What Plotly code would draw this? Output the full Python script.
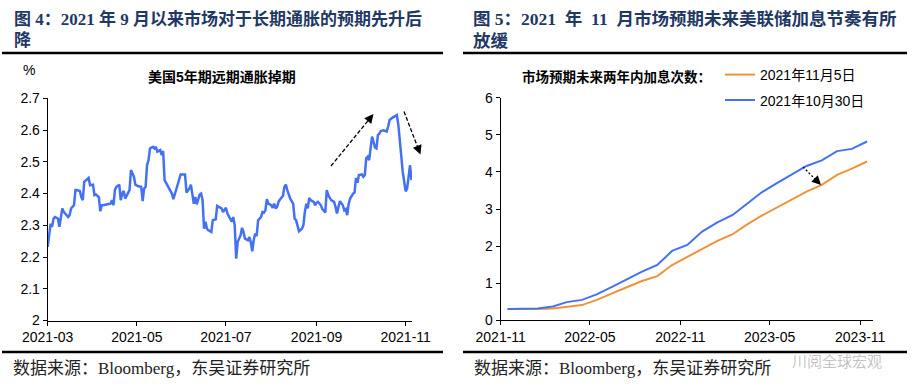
import plotly.graph_objects as go

# ---------------- data: left panel (US 5y5y inflation swap, %) ----------------
left_dates = [
    "2021-03-01", "2021-03-03", "2021-03-04", "2021-03-05", "2021-03-06", "2021-03-08", "2021-03-09", "2021-03-10",
    "2021-03-11", "2021-03-12", "2021-03-13", "2021-03-15", "2021-03-16", "2021-03-17", "2021-03-19", "2021-03-20",
    "2021-03-21", "2021-03-23", "2021-03-24", "2021-03-25", "2021-03-26", "2021-03-28", "2021-03-29", "2021-03-30",
    "2021-04-01", "2021-04-02", "2021-04-03", "2021-04-05", "2021-04-06", "2021-04-07", "2021-04-08", "2021-04-11",
    "2021-04-13", "2021-04-14", "2021-04-15", "2021-04-16", "2021-04-17", "2021-04-19", "2021-04-20", "2021-04-21",
    "2021-04-22", "2021-04-23", "2021-04-25", "2021-04-26", "2021-04-27", "2021-04-29", "2021-04-30",
    "2021-05-01", "2021-05-02", "2021-05-04", "2021-05-05", "2021-05-06", "2021-05-07", "2021-05-08", "2021-05-09",
    "2021-05-10", "2021-05-12", "2021-05-13", "2021-05-14", "2021-05-15", "2021-05-17", "2021-05-18", "2021-05-19",
    "2021-05-20", "2021-05-22", "2021-05-24", "2021-05-25", "2021-05-26", "2021-05-28", "2021-05-30", "2021-05-31",
    "2021-06-03", "2021-06-04", "2021-06-06", "2021-06-07", "2021-06-09", "2021-06-10", "2021-06-11", "2021-06-12",
    "2021-06-13", "2021-06-14", "2021-06-15", "2021-06-16", "2021-06-17", "2021-06-18", "2021-06-19", "2021-06-21",
    "2021-06-22", "2021-06-24", "2021-06-25", "2021-06-26", "2021-06-28", "2021-06-29", "2021-06-30",
    "2021-07-01", "2021-07-02", "2021-07-04", "2021-07-05", "2021-07-06", "2021-07-07", "2021-07-08", "2021-07-09",
    "2021-07-11", "2021-07-12", "2021-07-13", "2021-07-14", "2021-07-16", "2021-07-17", "2021-07-18", "2021-07-19",
    "2021-07-20", "2021-07-21", "2021-07-22", "2021-07-23", "2021-07-25", "2021-07-26", "2021-07-27", "2021-07-28",
    "2021-07-29", "2021-07-30",
    "2021-08-01", "2021-08-02", "2021-08-03", "2021-08-04", "2021-08-05", "2021-08-06", "2021-08-07", "2021-08-09",
    "2021-08-10", "2021-08-11", "2021-08-12", "2021-08-13", "2021-08-14", "2021-08-16", "2021-08-17", "2021-08-18",
    "2021-08-20", "2021-08-22", "2021-08-23", "2021-08-24", "2021-08-25", "2021-08-26", "2021-08-27", "2021-08-28",
    "2021-08-30", "2021-08-31",
    "2021-09-01", "2021-09-02", "2021-09-04", "2021-09-05", "2021-09-07", "2021-09-08", "2021-09-09", "2021-09-11",
    "2021-09-13", "2021-09-14", "2021-09-15", "2021-09-16", "2021-09-17", "2021-09-19", "2021-09-20", "2021-09-21",
    "2021-09-22", "2021-09-23", "2021-09-24", "2021-09-26", "2021-09-27", "2021-09-28", "2021-09-29", "2021-09-30",
    "2021-10-02", "2021-10-03", "2021-10-04", "2021-10-05", "2021-10-06", "2021-10-07", "2021-10-08", "2021-10-09",
    "2021-10-10", "2021-10-11", "2021-10-12", "2021-10-13", "2021-10-14", "2021-10-15", "2021-10-17", "2021-10-19",
    "2021-10-20", "2021-10-21", "2021-10-23", "2021-10-24", "2021-10-26", "2021-10-27", "2021-10-28", "2021-10-29",
    "2021-10-30", "2021-10-31",
    "2021-11-01", "2021-11-02", "2021-11-03", "2021-11-04", "2021-11-05",
]
left_values = [
    2.232, 2.305, 2.295, 2.321, 2.326, 2.321, 2.295, 2.321, 2.353, 2.342, 2.337, 2.326, 2.332, 2.353, 2.363, 2.411,
    2.411, 2.408, 2.389, 2.379, 2.437, 2.445, 2.449, 2.426,
    2.428, 2.395, 2.397, 2.389, 2.344, 2.363, 2.363, 2.366, 2.368, 2.379, 2.363, 2.411, 2.421, 2.428, 2.379, 2.400,
    2.408, 2.384, 2.400, 2.411, 2.474, 2.453, 2.428,
    2.424, 2.423, 2.421, 2.376, 2.416, 2.421, 2.489, 2.505, 2.542, 2.547, 2.542, 2.547, 2.532, 2.537, 2.521, 2.534,
    2.442, 2.426, 2.411, 2.400, 2.382, 2.416, 2.442, 2.460,
    2.460, 2.403, 2.416, 2.428, 2.368, 2.389, 2.366, 2.384, 2.397, 2.400, 2.379, 2.289, 2.311, 2.289, 2.284, 2.279,
    2.316, 2.319, 2.361, 2.358, 2.353, 2.342, 2.351,
    2.355, 2.337, 2.321, 2.311, 2.326, 2.300, 2.195, 2.247, 2.268, 2.292, 2.279, 2.258, 2.253, 2.263, 2.247, 2.218,
    2.253, 2.274, 2.266, 2.316, 2.326, 2.342, 2.340, 2.347, 2.382, 2.368,
    2.363, 2.355, 2.368, 2.353, 2.358, 2.374, 2.381, 2.392, 2.421, 2.428, 2.411, 2.395, 2.384, 2.368, 2.321, 2.316,
    2.281, 2.289, 2.300, 2.342, 2.368, 2.353, 2.386, 2.379, 2.374, 2.363,
    2.371, 2.374, 2.363, 2.351, 2.340, 2.411, 2.395, 2.379, 2.374, 2.358, 2.337, 2.358, 2.376, 2.363, 2.347, 2.351,
    2.332, 2.368, 2.384, 2.400, 2.403, 2.449, 2.434, 2.458,
    2.460, 2.453, 2.458, 2.511, 2.516, 2.505, 2.547, 2.579, 2.563, 2.545, 2.542, 2.584, 2.589, 2.597, 2.599, 2.595,
    2.611, 2.632, 2.639, 2.642, 2.647, 2.616, 2.568, 2.500, 2.468, 2.437,
    2.407, 2.416, 2.453, 2.489, 2.442,
]
left_xticks = ["2021-03", "2021-05", "2021-07", "2021-09", "2021-11"]
left_yticks = [2.0, 2.1, 2.2, 2.3, 2.4, 2.5, 2.6, 2.7]
left_yticktext = ["2", "2.1", "2.2", "2.3", "2.4", "2.5", "2.6", "2.7"]

# ---------------- data: right panel (expected number of hikes) ----------------
right_dates = [
    "2021-11-15", "2021-12-15", "2022-01-15", "2022-02-15", "2022-03-15", "2022-04-15", "2022-05-15",
    "2022-06-15", "2022-07-15", "2022-08-15", "2022-09-15", "2022-10-15", "2022-11-15", "2022-12-15",
    "2023-01-15", "2023-02-15", "2023-03-15", "2023-04-15", "2023-05-15", "2023-06-15", "2023-07-15",
    "2023-08-15", "2023-09-15", "2023-10-15", "2023-11-15",
]
hikes_nov5 = [0.305, 0.30, 0.305, 0.32, 0.37, 0.41, 0.55, 0.73, 0.89, 1.06, 1.19, 1.49, 1.71, 1.94, 2.14,
              2.32, 2.57, 2.82, 3.04, 3.26, 3.47, 3.65, 3.92, 4.09, 4.28]
hikes_oct30 = [0.305, 0.305, 0.32, 0.37, 0.49, 0.55, 0.70, 0.90, 1.11, 1.31, 1.49, 1.87, 2.03, 2.39, 2.64,
               2.84, 3.13, 3.45, 3.69, 3.94, 4.16, 4.31, 4.56, 4.62, 4.82]
right_xticks = ["2021-11", "2022-05", "2022-11", "2023-05", "2023-11"]
right_yticks = [0, 1, 2, 3, 4, 5, 6]

# ---------------- helpers (figure pixels -> paper coords) ----------------
W, H = 916, 388


def px(x):
    return x / W


def py(y):
    return 1 - y / H


BLUE = "#4471F4"
ORANGE = "#F0923A"
NAVY = "#1F3864"
TICKFONT = dict(family="Liberation Sans, Arial, sans-serif", size=14, color="black")
TITLEFONT = dict(family="Liberation Serif, Noto Sans CJK SC", size=17, color=NAVY, weight="bold")
SRCFONT = dict(family="Liberation Serif, Noto Sans CJK SC", size=17, color="#222222")
SUBFONT = dict(family="Liberation Sans, Noto Sans CJK SC", size=13.5, color="black", weight="bold")

fig = go.Figure()
fig.add_trace(go.Scatter(x=left_dates, y=left_values, mode="lines", line=dict(color=BLUE, width=2.5),
                         xaxis="x", yaxis="y", showlegend=False))
fig.add_trace(go.Scatter(x=right_dates, y=hikes_nov5, mode="lines", name="2021年11月5日",
                         line=dict(color=ORANGE, width=2), xaxis="x2", yaxis="y2", legend="legend"))
fig.add_trace(go.Scatter(x=right_dates, y=hikes_oct30, mode="lines", name="2021年10月30日",
                         line=dict(color=BLUE, width=2), xaxis="x2", yaxis="y2", legend="legend2"))

axis_common = dict(showline=True, linecolor="black", linewidth=1, ticks="outside", ticklen=4,
                   tickcolor="black", tickwidth=1, showgrid=False, zeroline=False, tickfont=TICKFONT,
                   automargin=False, fixedrange=True)

fig.update_layout(
    width=W, height=H, margin=dict(l=0, r=0, t=0, b=0),
    paper_bgcolor="white", plot_bgcolor="white",
    xaxis=dict(axis_common, domain=[px(47.7), px(412)], anchor="y", type="date",
               range=["2021-03-01", "2021-11-05 08:00"],
               tickvals=[t + "-01" for t in left_xticks], ticktext=left_xticks),
    yaxis=dict(axis_common, domain=[py(320.5), py(98.3)], anchor="x", range=[2, 2.7],
               tickvals=left_yticks, ticktext=left_yticktext),
    xaxis2=dict(axis_common, domain=[px(500.7), px(873)], anchor="y2", type="date",
                range=["2021-11-01", "2023-11-27"],
                tickvals=[t + "-01" for t in right_xticks], ticktext=right_xticks),
    yaxis2=dict(axis_common, domain=[py(320.3), py(97.7)], anchor="x2", range=[0, 6],
                tickvals=right_yticks),
    legend=dict(x=px(720), y=py(75), xanchor="left", yanchor="middle", bgcolor="rgba(0,0,0,0)",
                font=dict(family="Liberation Sans, Noto Sans CJK SC", size=14, color="black")),
    legend2=dict(x=px(720), y=py(100.5), xanchor="left", yanchor="middle", bgcolor="rgba(0,0,0,0)",
                 font=dict(family="Liberation Sans, Noto Sans CJK SC", size=14, color="black")),
)

annotations = []


def text(x, y, s, font, xanchor="left"):
    annotations.append(dict(xref="paper", yref="paper", x=px(x), y=py(y), text=s, showarrow=False,
                            xanchor=xanchor, yanchor="middle", font=font))


# titles
text(12, 19, "图 4：2021 年 9 月以来市场对于长期通胀的预期先升后", TITLEFONT)
text(12, 41, "降", TITLEFONT)
text(471, 19, "图 5：2021\u2002年\u200211\u2002月市场预期未来美联储加息节奏有所", dict(TITLEFONT, size=17.5))
text(471, 41, "放缓", dict(TITLEFONT, size=17.5))
# subtitles / units
text(222, 77, "美国5年期远期通胀掉期", dict(SUBFONT, size=14), xanchor="center")
text(520, 77, "市场预期未来两年内加息次数：", SUBFONT)
text(21, 70, "%", TICKFONT)
# sources
text(11, 368, "数据来源：Bloomberg，东吴证券研究所", SRCFONT)
text(472, 368, "数据来源：Bloomberg，东吴证券研究所", SRCFONT)
# watermark
text(790, 360, "川阅全球宏观", dict(family="Noto Sans CJK SC", size=15, color="rgba(120,120,120,0.45)"))


def arrow(tail, head, dash, hlen=9):
    (tx, ty), (hx, hy) = tail, head
    dx, dy = tx - hx, ty - hy
    L = (dx * dx + dy * dy) ** 0.5
    ux, uy = dx / L, dy / L
    shapes.append(dict(type="line", xref="paper", yref="paper",
                       x0=px(tx), y0=py(ty), x1=px(hx + ux * hlen * 0.6), y1=py(hy + uy * hlen * 0.6),
                       line=dict(color="black", width=1.3, dash=dash)))
    annotations.append(dict(xref="paper", yref="paper", x=px(hx), y=py(hy), ax=ux * hlen, ay=uy * hlen,
                            text="", showarrow=True, arrowhead=2, arrowsize=1.4, arrowwidth=1.3,
                            arrowcolor="black"))


shapes = []
# rules
for x0, x1 in [(2, 443), (463, 907)]:
    shapes.append(dict(type="line", xref="paper", yref="paper", x0=px(x0), x1=px(x1), y0=py(53), y1=py(53),
                       line=dict(color="black", width=2.5)))
    shapes.append(dict(type="line", xref="paper", yref="paper", x0=px(x0), x1=px(x1), y0=py(352), y1=py(352),
                       line=dict(color="black", width=2.7)))

arrow((331, 166), (373.5, 114), "4px,2px")
arrow((404, 111.5), (420.5, 154.5), "4px,2px")
arrow((803, 167), (821, 185), "2px,2px", hlen=8)

fig.update_layout(annotations=annotations, shapes=shapes)
fig.write_html("out.html", config={"displayModeBar": False},
               post_script="document.body.style.margin='0px';document.body.style.padding='0px';")
